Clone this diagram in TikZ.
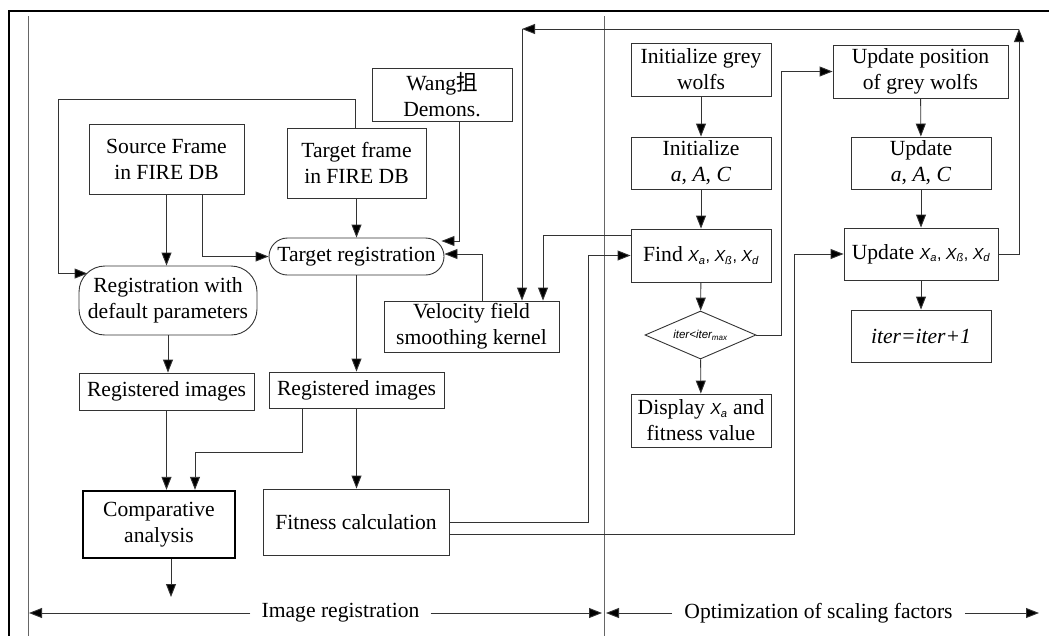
\documentclass[tikz,border=0pt]{standalone}
\usepackage{fontspec}
\setmainfont{Liberation Serif}
\newfontfamily\cjk{Noto Sans CJK SC}
\newfontfamily\arialf{Liberation Sans}
\usetikzlibrary{calc,arrows.meta,shapes.geometric}

\newcommand{\gx}[1]{{\arialf\itshape\fontsize{16}{18}\selectfont X\textsubscript{#1}}}

\begin{document}
\begin{tikzpicture}[
  x=1pt, y=-1pt,
  every node/.style={font=\fontsize{21.6}{26}\selectfont, align=center, inner sep=0pt},
  box/.style 2 args={draw=black!80, line width=0.9pt, rectangle, minimum width=#1pt, minimum height=#2pt},
  decision/.style={draw=black!80, line width=0.9pt, diamond, aspect=2.3, minimum width=111pt, minimum height=48pt},
  arr/.style={draw=black!80, line width=0.9pt, -{Triangle[length=13pt,width=10pt,fill=black]}},
  guide/.style={draw=black!60, line width=0.9pt}
]
\useasboundingbox (0,0) rectangle (1049,635);
\draw[line width=2.5pt] (9,640) -- (9,11) -- (1060,11);
\draw[guide] (28,16) -- (28,640);
\draw[guide] (604,16) -- (604,640);

% image registration part
\node[box={155}{70}] (src) at (166.5,159) {Source Frame\\in FIRE DB};
\node[box={139}{70}] (tgt) at (356.5,163) {Target frame\\in FIRE DB};
\node[box={140}{53}] (wang) at (442,94.5) {Wang{\cjk 抯}\\Demons.};
\node[box={175}{37}, rounded corners=18.5pt] (treg) at (356.5,256.5) {Target registration};
\node[box={178}{69}, rounded corners=26pt] (dreg) at (168,300.5) {Registration with\\default parameters};
\node[box={175}{51}] (vel) at (471.5,326.5) {Velocity field\\smoothing kernel};
\node[box={175}{37}] (rimg1) at (166.5,391.5) {Registered images};
\node[box={175}{36}] (rimg2) at (356.5,390) {Registered images};
\node[box={152}{67}, line width=2.4pt, draw=black] (comp) at (159,524.5) {Comparative\\analysis};
\node[box={186}{66}] (fit) at (356,522) {Fitness calculation};

% optimization part
\node[box={140}{53}] (initw) at (701,69.5) {Initialize grey\\wolfs};
\node[box={140}{52}] (initp) at (701,163) {Initialize\\\textit{a}, \textit{A}, \textit{C}};
\node[box={140}{53}] (find) at (701,255.5) {Find \gx{a}{\arialf\fontsize{16}{18}\selectfont, }\gx{ß}{\arialf\fontsize{16}{18}\selectfont, }\gx{d}};
\node[decision] (cond) at (700.5,335) {{\arialf\itshape\fontsize{11.5}{13}\selectfont iter<iter\textsubscript{max}}};
\node[box={140}{53}] (disp) at (701,420.5) {Display \gx{a} and\\fitness value};
\node[box={175}{53}] (updpos) at (920.5,71.5) {Update position\\of grey wolfs};
\node[box={140}{52}] (updp) at (921,163) {Update\\\textit{a}, \textit{A}, \textit{C}};
\node[box={154}{52}] (updx) at (921,254) {Update \gx{a}{\arialf\fontsize{16}{18}\selectfont, }\gx{ß}{\arialf\fontsize{16}{18}\selectfont, }\gx{d}};
\node[box={140}{52}] (iter) at (921,336) {\textit{iter=iter+1}};

\coordinate (loop) at (58,99);
\coordinate (tr) at (1019,29);
\coordinate (tl) at (522,29);
\coordinate (out) at (171,597);

\draw[arr] (src.south) -- (src.south |- dreg.north);
\draw[arr] ([xshift=35.5pt]src.south) |- (treg.west);
\draw[arr] (tgt.south) -- (treg.north);
\draw[arr] ([xshift=-1.5pt]tgt.north) |- (loop) |- ([xshift=9pt,yshift=-8pt]dreg.north west);
\draw[arr] ([xshift=17pt]wang.south) |- ([xshift=-3pt,yshift=15.5pt]treg.east);
\draw[arr] ([xshift=10.5pt]vel.north) |- ([yshift=2.5pt]treg.east);
\draw[arr] (treg.south) -- (rimg2.north);
\draw[arr] (dreg.south) -- (dreg.south |- rimg1.north);
\draw[arr] (rimg1.south) -- (rimg1.south |- comp.north);
\draw[arr] ([xshift=-54.5pt]rimg2.south) -- ++(0,44) -| ([xshift=36pt]comp.north);
\draw[arr] (rimg2.south) -- (rimg2.south |- fit.north);
\draw[arr] (comp.south -| out) -- (out);
\draw[arr] (fit.east) -| ([xshift=-42pt]find.west) -- (find.west);
\draw[arr] ([yshift=-12pt]fit.east) -| ([xshift=-49pt]updx.west) -- (updx.west);
\draw[arr] ([yshift=20pt]find.west) -| ([xshift=71.5pt]vel.north);

\draw[arr] (initw) -- (initp);
\draw[arr] (initp) -- (find);
\draw[arr] (find) -- (cond);
\draw[arr] (cond) -- (disp);
\draw[arr] (cond.east) -| ([xshift=-51pt]updpos.west) -- (updpos.west);
\draw[arr] (updpos) -- (updp);
\draw[arr] (updp) -- (updx);
\draw[arr] (updx) -- (iter);
\draw[arr] (updx.east) -| (tr);
\draw[arr] (tr) -- (tl);
\draw[arr] (tl) -- (tl |- vel.north);

% bottom labels
\node[inner xsep=11pt] (lab1) at (340.5,613) {Image registration};
\node[inner xsep=12pt] (lab2) at (818.5,613) {Optimization of scaling factors};
\coordinate (e1) at (29,613);
\coordinate (e2) at (602,613);
\coordinate (e3) at (606,613);
\coordinate (e4) at (1039,613);
\draw[arr] (lab1.west) -- (e1);
\draw[arr] (lab1.east) -- (e2);
\draw[arr] (lab2.west) -- (e3);
\draw[arr] (lab2.east) -- (e4);
\end{tikzpicture}
\end{document}
